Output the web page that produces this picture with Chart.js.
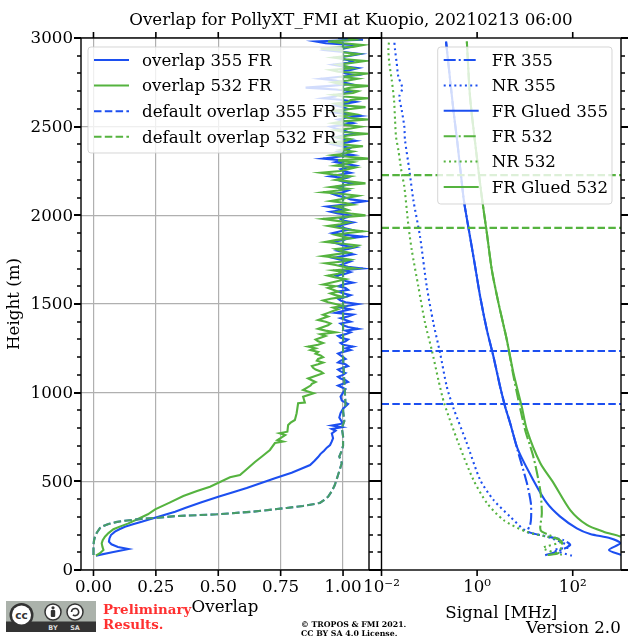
<!DOCTYPE html>
<html>
<head>
<meta charset="utf-8">
<title>Overlap for PollyXT_FMI</title>
<script src="https://cdn.jsdelivr.net/npm/chart.js@4"></script>
<style>
    html, body { margin: 0; padding: 0; background: #fff; }
    #page { position: relative; width: 640px; height: 640px; overflow: hidden; font-family: "DejaVu Serif", serif; color: #000; }
    #page canvas { position: absolute; top: 0; }
    #overlapChart { left: 0; }
    #signalChart { left: 340px; }
    .note { position: absolute; white-space: nowrap; }
    #plotTitle { left: 0; width: 702px; top: 11px; text-align: center; font-size: 16.67px; line-height: 18px; }
    #prelim { left: 103px; top: 602px; font-size: 13.4px; line-height: 15px; font-weight: bold; color: #ff3030; }
    #license { left: 301px; top: 620px; font-size: 7.8px; line-height: 9px; font-weight: bold; }
    #version { left: 526px; top: 619px; font-size: 16.67px; line-height: 18px; }
    #ccBadge { position: absolute; left: 6px; top: 601px; }
</style>
</head>
<body>
<div id="page">
    <canvas id="overlapChart" width="375" height="640"></canvas>
    <canvas id="signalChart" width="300" height="640"></canvas>
    <div class="note" id="plotTitle">Overlap for PollyXT_FMI at Kuopio, 20210213 06:00</div>
    <svg id="ccBadge" width="90" height="31" viewBox="0 0 90 31">
        <rect width="90" height="31" fill="#abb2ab"/>
        <rect y="20.5" width="90" height="10.5" fill="#333"/>
        <circle cx="15.5" cy="14" r="12" fill="#333"/>
        <circle cx="15.5" cy="14" r="9.5" fill="#fff"/>
        <text x="15.5" y="18" text-anchor="middle" font-family="DejaVu Sans" font-weight="bold" font-size="10.5" fill="#333">cc</text>
        <circle cx="47" cy="11" r="8" fill="#fff" stroke="#333" stroke-width="1.5"/>
        <circle cx="47" cy="6.8" r="1.6" fill="#333"/>
        <rect x="44.8" y="9" width="4.4" height="7" rx="1" fill="#333"/>
        <circle cx="69" cy="11" r="8" fill="#fff" stroke="#333" stroke-width="1.5"/>
        <path d="M65.5 11 a3.6 3.6 0 1 1 1.4 2.9" fill="none" stroke="#333" stroke-width="1.6"/>
        <text x="47" y="28.5" text-anchor="middle" font-family="DejaVu Sans" font-weight="bold" font-size="6.5" fill="#ddd">BY</text>
        <text x="69" y="28.5" text-anchor="middle" font-family="DejaVu Sans" font-weight="bold" font-size="6.5" fill="#ddd">SA</text>
    </svg>
    <div class="note" id="prelim">Preliminary<br>Results.</div>
    <div class="note" id="license">© TROPOS &amp; FMI 2021.<br>CC BY SA 4.0 License.</div>
    <div class="note" id="version">Version 2.0</div>
</div>

<script>
const BLUE = '#1c4ff0';
const GREEN = '#55b33f';
const GREEN_SOFT = 'rgba(85,179,63,0.78)';
const SERIF = 'DejaVu Serif';

// ---- values ----
const overlapTicks = [0, 0.25, 0.5, 0.75, 1];
const signalTicks = [0.01, 1, 100];
const signalTickLabels = ['10⁻²', '10⁰', '10²'];
const heightTicks = [0, 100, 200, 300, 400, 500, 600, 700, 800, 900, 1000, 1100, 1200, 1300, 1400, 1500,
    1600, 1700, 1800, 1900, 2000, 2100, 2200, 2300, 2400, 2500, 2600, 2700, 2800, 2900, 3000];

const upperHeights = [
    1040, 1050, 1060, 1070, 1080, 1090, 1100, 1110, 1120, 1130,
    1140, 1150, 1160, 1170, 1180, 1190, 1200, 1210, 1220, 1230,
    1240, 1250, 1260, 1270, 1280, 1290, 1300, 1310, 1320, 1330,
    1340, 1350, 1360, 1370, 1380, 1390, 1400, 1410, 1420, 1430,
    1440, 1450, 1460, 1470, 1480, 1490, 1500, 1510, 1520, 1530,
    1540, 1550, 1560, 1570, 1580, 1590, 1600, 1610, 1620, 1630,
    1640, 1650, 1660, 1670, 1680, 1690, 1700, 1710, 1720, 1730,
    1740, 1750, 1760, 1770, 1780, 1790, 1800, 1810, 1820, 1830,
    1840, 1850, 1860, 1870, 1880, 1890, 1900, 1910, 1920, 1930,
    1940, 1950, 1960, 1970, 1980, 1990, 2000, 2010, 2020, 2030,
    2040, 2050, 2060, 2070, 2080, 2090, 2100, 2110, 2120, 2130,
    2140, 2150, 2160, 2170, 2180, 2190, 2200, 2210, 2220, 2230,
    2240, 2250, 2260, 2270, 2280, 2290, 2300, 2310, 2320, 2330,
    2340, 2350, 2360, 2370, 2380, 2390, 2400, 2410, 2420, 2430,
    2440, 2450, 2460, 2470, 2480, 2490, 2500, 2510, 2520, 2530,
    2540, 2550, 2560, 2570, 2580, 2590, 2600, 2610, 2620, 2630,
    2640, 2650, 2660, 2670, 2680, 2690, 2700, 2710, 2720, 2730,
    2740, 2750, 2760, 2770, 2780, 2790, 2800, 2810, 2820, 2830,
    2840, 2850, 2860, 2870, 2880, 2890, 2900, 2910, 2920, 2930,
    2940, 2950, 2960, 2970, 2980, 2990, 3000];

const overlap355Heights = [81, 100, 118, 130, 145, 160, 178, 197, 216, 230, 244, 258, 272, 286, 300, 314, 329, 350, 380, 413, 437, 462, 490, 518, 549, 570, 592, 615, 637, 655, 673, 690, 705,
    725, 743, 770, 785, 795, 805, 815, 825, 836, 860, 885, 910, 936, 955, 977, 1000, 1020];
const overlap355Low = [0.01, 0.075, 0.14, 0.098, 0.072, 0.062, 0.064, 0.07, 0.086, 0.104, 0.126, 0.158, 0.193, 0.226, 0.26, 0.293, 0.327, 0.367, 0.43, 0.5, 0.556, 0.614, 0.672, 0.727, 0.794, 0.83, 0.868, 0.885, 0.9, 0.91, 0.924, 0.935, 0.948,
    0.955, 0.96, 0.955, 0.97, 0.955, 0.995, 0.955, 0.995, 0.995, 0.985, 0.99, 1.0, 1.02, 0.995, 0.99, 1.0, 1.01];
const overlap355High = [
    0.98, 1.00, 1.02, 1.01, 0.99, 0.98, 1.00, 1.01, 0.99, 0.98,
    1.00, 1.02, 1.01, 0.98, 0.99, 1.01, 1.00, 0.99, 0.98, 1.00,
    1.03, 1.01, 1.04, 1.00, 0.99, 1.01, 1.02, 0.99, 0.98, 1.01,
    1.03, 1.01, 1.06, 1.02, 1.00, 0.99, 1.03, 1.01, 0.99, 1.02,
    1.04, 0.97, 1.00, 1.03, 0.99, 1.02, 1.06, 1.01, 0.99, 0.98,
    1.01, 1.03, 1.00, 0.98, 1.02, 1.01, 0.98, 1.00, 1.04, 1.01,
    1.00, 0.98, 0.97, 1.01, 1.03, 1.00, 1.08, 1.02, 0.99, 1.01,
    1.03, 0.99, 0.96, 1.00, 1.04, 1.01, 0.98, 1.02, 1.05, 1.00,
    0.98, 0.95, 1.00, 1.02, 1.08, 1.01, 0.96, 0.99, 1.03, 1.00,
    0.97, 1.01, 1.04, 1.00, 0.99, 1.02, 1.03, 0.98, 0.95, 1.00,
    0.97, 0.935, 1.00, 1.04, 1.09, 1.03, 1.01, 0.98, 0.96, 1.00,
    1.02, 0.99, 0.97, 1.01, 1.04, 1.00, 0.98, 1.01, 0.95, 0.99,
    1.03, 1.00, 0.99, 1.02, 1.05, 1.01, 0.97, 1.00, 0.92, 0.98,
    1.04, 1.00, 0.98, 1.02, 1.03, 0.99, 0.96, 1.01, 1.05, 1.00,
    0.97, 1.00, 1.06, 1.02, 1.00, 0.97, 0.95, 1.00, 1.04, 1.01,
    0.98, 1.01, 1.07, 1.02, 0.96, 0.99, 1.02, 1.00, 0.97, 1.01,
    1.05, 1.00, 0.92, 0.97, 0.98, 1.01, 1.04, 0.97, 0.85, 0.95,
    1.03, 1.00, 0.97, 0.91, 0.98, 1.05, 1.01, 0.99, 1.03, 1.06,
    1.00, 0.96, 1.02, 1.04, 1.00, 0.98, 1.03, 1.07, 1.01, 0.94,
    1.00, 1.03, 1.05, 0.93, 0.89, 1.08, 0.98];

const overlap532Heights = [81, 95, 113, 130, 150, 168, 188, 208, 230, 246, 263, 288, 314, 342, 380, 417, 445, 470, 523, 536, 570, 609, 640, 677, 716, 724, 733, 761, 771, 780, 818, 831, 846, 884, 940, 944, 977, 997, 1015];
const overlap532Low = [0.01, 0.026, 0.04, 0.036, 0.033, 0.037, 0.046, 0.06, 0.08, 0.108, 0.14, 0.178, 0.218, 0.247, 0.305, 0.36, 0.415, 0.467, 0.547, 0.587, 0.615, 0.647, 0.675, 0.707, 0.727, 0.76, 0.737, 0.768, 0.745, 0.777, 0.78, 0.79, 0.807, 0.814, 0.82, 0.847, 0.84, 0.882, 0.84];
const overlap532High = [
    0.87, 0.875, 0.89, 0.875, 0.86, 0.88, 0.90, 0.92, 0.91, 0.89,
    0.88, 0.875, 0.90, 0.92, 0.895, 0.90, 0.92, 0.91, 0.89, 0.90,
    0.87, 0.89, 0.86, 0.90, 0.92, 0.90, 0.89, 0.91, 0.93, 0.91,
    0.97, 0.93, 0.90, 0.92, 0.94, 0.95, 0.93, 0.90, 0.92, 0.94,
    0.92, 0.94, 0.96, 0.98, 0.96, 1.00, 0.97, 0.94, 0.92, 0.95,
    1.00, 0.97, 0.95, 0.98, 0.96, 0.94, 0.97, 0.92, 0.95, 0.98,
    1.01, 0.97, 0.94, 0.98, 1.00, 0.96, 1.05, 1.00, 0.97, 0.93,
    1.00, 1.03, 0.98, 0.92, 0.97, 1.02, 0.99, 0.97, 1.04, 1.06,
    1.00, 0.93, 0.97, 1.03, 1.00, 0.97, 1.02, 1.08, 1.02, 0.98,
    0.94, 0.99, 1.02, 0.97, 0.92, 1.00, 1.09, 1.03, 0.98, 1.02,
    1.00, 0.97, 1.04, 1.01, 0.95, 0.99, 1.02, 1.06, 1.00, 0.92,
    0.98, 1.02, 0.95, 1.00, 1.09, 1.03, 0.97, 1.00, 1.03, 0.96,
    0.91, 0.99, 1.02, 1.05, 0.97, 1.01, 1.04, 0.98, 1.10, 1.02,
    0.96, 1.01, 1.04, 0.99, 1.02, 1.08, 0.99, 0.95, 1.01, 1.03,
    0.98, 1.02, 1.10, 1.00, 0.97, 1.03, 1.07, 1.01, 0.96, 1.00,
    1.10, 1.02, 0.99, 1.05, 1.01, 0.96, 1.03, 1.09, 1.00, 0.97,
    1.02, 1.03, 1.10, 1.00, 0.96, 1.04, 1.06, 1.00, 1.03, 1.10,
    0.99, 0.96, 1.02, 1.06, 1.00, 1.04, 1.10, 0.98, 0.95, 1.04,
    1.01, 0.98, 1.04, 1.09, 1.01, 0.96, 1.02, 1.06, 1.00, 0.99,
    0.91, 1.04, 1.08, 1.00, 0.94, 1.05, 1.02];

const defaultHeights = [85, 110, 140, 165, 188, 212, 236, 248, 259, 270, 278, 288, 295, 304, 314, 329, 350, 361, 378, 395, 413, 445, 479, 536, 603, 640, 673, 700, 755, 800, 840, 900, 930, 1200, 1600, 2000, 2400, 2800, 3000];
const defaultOverlap355 = [0.0, 0.0, 0.0, 0.002, 0.006, 0.014, 0.026, 0.04, 0.06, 0.09, 0.126, 0.193, 0.26, 0.327, 0.494, 0.64, 0.774, 0.84, 0.907, 0.925, 0.94, 0.955, 0.967, 0.98, 0.995, 0.985, 0.995, 1.0, 1.0, 0.995, 1.005, 1.0, 1.01, 1.0, 1.0, 1.0, 1.0, 1.0, 1.0];
const defaultOverlap532 = [0.0, 0.0, 0.0, 0.002, 0.006, 0.014, 0.026, 0.04, 0.06, 0.09, 0.126, 0.193, 0.26, 0.327, 0.494, 0.64, 0.774, 0.84, 0.907, 0.925, 0.94, 0.955, 0.967, 0.98, 0.995, 0.985, 0.995, 1.0, 1.0, 0.995, 1.005, 1.0, 1.01, 1.0, 1.0, 1.0, 1.0, 1.0, 1.0];

const glued355Heights = [85, 113, 151, 179, 203, 235, 301, 378, 508, 677, 829, 921, 1034, 1203, 1354, 1541, 1711, 1880, 2041, 2105, 2408, 2594, 2980];
const glued355 = [1023, 573, 990, 610, 232, 122, 54.7, 28.8, 14.9, 7.2, 4.9, 3.86, 3.03, 2.2, 1.6, 1.16, 0.91, 0.71, 0.56, 0.516, 0.387, 0.319, 0.224];
const glued532Heights = [150, 188, 216, 254, 338, 490, 603, 790, 921, 1111, 1297, 1505, 1692, 1900, 2105, 2408, 2670, 2980];
const glued532 = [2000, 1023, 442, 198, 88.7, 39.8, 20.9, 11, 8.6, 5.75, 4.19, 2.8, 2.03, 1.6, 1.25, 0.91, 0.71, 0.61];

const fr355Heights = [83, 103, 141, 169, 216, 254, 300, 378, 490, 677, 829, 921, 1034, 1203, 1354, 1541, 1711, 1880, 2041, 2105, 2408, 2594, 2980];
const fr355 = [26.5, 46.7, 88.7, 63, 11.5, 12.9, 13.5, 13.3, 11, 7.0, 4.9, 3.86, 3.03, 2.2, 1.6, 1.16, 0.91, 0.71, 0.56, 0.516, 0.387, 0.319, 0.224];
const fr532Heights = [85, 96, 160, 216, 237, 321, 451, 639, 790, 959, 1111, 1297, 1505, 1692, 1900, 2105, 2408, 2670, 2980];
const fr532 = [30, 50, 59, 22.6, 20.9, 22.6, 20.9, 15, 10.1, 7.3, 5.6, 4.19, 2.8, 2.03, 1.6, 1.25, 0.91, 0.71, 0.61];

const nr355Heights = [81, 113, 131, 188, 216, 301, 395, 508, 716, 914, 1034, 1224, 1393, 1598, 1880, 2087, 2256, 2425, 2500, 2594, 2670, 2717, 2782, 2858, 2933, 2980];
const nr355 = [96, 40, 88.7, 28.8, 11, 4.9, 2.2, 1.16, 0.608, 0.319, 0.232, 0.168, 0.1216, 0.0885, 0.064, 0.0463, 0.0382, 0.031, 0.03, 0.0265, 0.0236, 0.0273, 0.0225, 0.0208, 0.0192, 0.01854];
const nr532Heights = [85, 124, 160, 188, 214, 282, 378, 508, 716, 942, 1072, 1241, 1393, 1598, 1805, 1946, 2163, 2238, 2369, 2444, 2538, 2650, 2764, 2858, 2933, 2980];
const nr532 = [59, 24, 59, 28.8, 11, 3.56, 1.6, 0.837, 0.406, 0.204, 0.155, 0.1125, 0.0815, 0.059, 0.0429, 0.0364, 0.03, 0.0265, 0.0225, 0.0201, 0.0192, 0.0183, 0.01637, 0.01456, 0.0139, 0.01436];

const signalRange = [0.01, 1023];
const overlapLimits355 = [936, 1235];
const overlapLimits532 = [1929, 2227];

function toPoints(values, heights) {
    return values.map((v, i) => ({ x: v, y: heights[i] }));
}

let drawOrder = 0;

function lineSet(label, data, color, dash, tension, legendColor) {
    drawOrder -= 1; // chart.js paints the first dataset last, we want the opposite
    return {
        label: label,
        data: data,
        order: drawOrder,
        borderColor: color,
        legendColor: legendColor || color,
        borderWidth: 2.1,
        borderDash: dash || [],
        tension: tension || 0,
        showLine: true,
        pointRadius: 0,
        fill: false
    };
}

function limitSet(height, color) {
    return lineSet(null, signalRange.map(v => ({ x: v, y: height })), color, [7.5, 3.3]);
}

// tick marks outside of the frame plus the black frame itself
const frameTicks = {
    id: 'frameTicks',
    afterDraw(chart) {
        const area = chart.chartArea;
        const ctx = chart.ctx;
        ctx.save();
        ctx.strokeStyle = '#000';
        chart.scales.y.ticks.forEach(t => {
            const py = Math.round(chart.scales.y.getPixelForValue(t.value));
            const major = t.value % 500 == 0;
            const len = major ? 7 : 4;
            ctx.lineWidth = major ? 2 : 1.4;
            ctx.beginPath();
            ctx.moveTo(area.left - len, py);
            ctx.lineTo(area.left, py);
            ctx.moveTo(area.right, py);
            ctx.lineTo(area.right + len, py);
            ctx.stroke();
        });
        ctx.lineWidth = 1.6;
        chart.scales.x.ticks.forEach(t => {
            const px = chart.scales.x.getPixelForValue(t.value);
            ctx.beginPath();
            ctx.moveTo(px, area.top - 6);
            ctx.lineTo(px, area.top);
            ctx.moveTo(px, area.bottom);
            ctx.lineTo(px, area.bottom + 6);
            ctx.stroke();
        });
        ctx.lineWidth = 1.4;
        ctx.strokeRect(area.left, area.top, area.right - area.left, area.bottom - area.top);
        ctx.restore();
    }
};

// legend laid over the data, half see-through like in the original
const floatLegend = {
    id: 'floatLegend',
    afterDatasetsDraw(chart, args, opts) {
        const ctx = chart.ctx;
        ctx.save();
        ctx.beginPath();
        ctx.roundRect(opts.x, opts.y, opts.width, opts.height, 3);
        ctx.fillStyle = 'rgba(255,255,255,0.8)';
        ctx.fill();
        ctx.strokeStyle = 'rgba(204,204,204,0.8)';
        ctx.lineWidth = 1;
        ctx.stroke();
        ctx.font = '16.67px "' + SERIF + '"';
        ctx.textBaseline = 'middle';
        const items = chart.data.datasets.filter(d => d.label);
        items.forEach((d, i) => {
            const rowY = opts.y + opts.firstRow + i * opts.rowStep;
            ctx.strokeStyle = d.legendColor;
            ctx.lineWidth = 2;
            ctx.setLineDash(d.borderDash);
            ctx.beginPath();
            ctx.moveTo(opts.x + 6, rowY);
            ctx.lineTo(opts.x + 41, rowY);
            ctx.stroke();
            ctx.setLineDash([]);
            ctx.fillStyle = '#000';
            ctx.fillText(d.label, opts.x + 54, rowY + 1.5);
        });
        ctx.restore();
    }
};

function fixedY(width) {
    return function (scale) {
        scale.width = width;
        scale.paddingTop = 0;
        scale.paddingBottom = 0;
    };
}

function fixedX(height) {
    return function (scale) {
        scale.height = height;
        scale.paddingLeft = 0;
        scale.paddingRight = 0;
    };
}

function heightScale(width, showLabels) {
    return {
        type: 'linear',
        min: 0,
        max: 3000,
        afterBuildTicks: scale => { scale.ticks = heightTicks.map(v => ({ value: v })); },
        afterFit: fixedY(width),
        grid: {
            drawTicks: false,
            color: ctx => (showLabels && ctx.tick && ctx.tick.value % 500 == 0) ? '#b0b0b0' : 'rgba(0,0,0,0)',
            lineWidth: 1.2
        },
        border: { display: false },
        ticks: {
            autoSkip: false,
            padding: 8,
            labelOffset: 1,
            color: '#000',
            font: { family: SERIF, size: 16.67 },
            display: showLabels,
            callback: v => (v % 500 == 0 ? String(v) : '')
        },
        title: {
            display: showLabels,
            text: 'Height (m)',
            color: '#000',
            font: { family: SERIF, size: 16.67 },
            padding: { top: 5, bottom: 0 }
        }
    };
}

new Chart(document.getElementById('overlapChart'), {
    type: 'scatter',
    data: {
        datasets: [
            lineSet('overlap 355 FR', toPoints(overlap355Low.concat(overlap355High), overlap355Heights.concat(upperHeights)), BLUE),
            lineSet('overlap 532 FR', toPoints(overlap532Low.concat(overlap532High), overlap532Heights.concat(upperHeights)), GREEN),
            lineSet('default overlap 355 FR', toPoints(defaultOverlap355, defaultHeights), BLUE, [7.5, 3.3]),
            lineSet('default overlap 532 FR', toPoints(defaultOverlap532, defaultHeights), GREEN_SOFT, [7.5, 3.3], 0, GREEN)
        ]
    },
    options: {
        responsive: false,
        animation: false,
        layout: { padding: { top: 38, right: 6, bottom: 0, left: 0 } },
        scales: {
            x: {
                type: 'linear',
                min: -0.05,
                max: 1.104,
                afterBuildTicks: scale => { scale.ticks = overlapTicks.map(v => ({ value: v })); },
                afterFit: fixedX(70),
                grid: { drawTicks: false, color: '#b0b0b0', lineWidth: 1.2 },
                border: { display: false },
                ticks: {
                    autoSkip: false,
                    maxRotation: 0,
                    padding: 8,
                    color: '#000',
                    font: { family: SERIF, size: 16.67 },
                    callback: v => v.toFixed(2)
                },
                title: {
                    display: true,
                    text: 'Overlap',
                    color: '#000',
                    font: { family: SERIF, size: 16.67 },
                    padding: { top: 0, bottom: 22 }
                }
            },
            y: heightScale(81, true)
        },
        plugins: {
            legend: { display: false },
            tooltip: { enabled: false },
            floatLegend: { x: 88, y: 47, width: 255, height: 106, firstRow: 13, rowStep: 25.6 }
        }
    },
    plugins: [floatLegend, frameTicks]
});

new Chart(document.getElementById('signalChart'), {
    type: 'scatter',
    data: {
        datasets: [
            lineSet('FR 355', toPoints(fr355, fr355Heights), BLUE, [12, 3, 2, 3], 0.25),
            lineSet('NR 355', toPoints(nr355, nr355Heights), BLUE, [2, 3.3], 0.25),
            lineSet('FR Glued 355', toPoints(glued355, glued355Heights), BLUE, null, 0.25),
            lineSet('FR 532', toPoints(fr532, fr532Heights), GREEN, [12, 3, 2, 3], 0.25),
            lineSet('NR 532', toPoints(nr532, nr532Heights), GREEN, [2, 3.3], 0.25),
            lineSet('FR Glued 532', toPoints(glued532, glued532Heights), GREEN, null, 0.25),
            limitSet(overlapLimits355[0], BLUE),
            limitSet(overlapLimits355[1], BLUE),
            limitSet(overlapLimits532[0], GREEN),
            limitSet(overlapLimits532[1], GREEN)
        ]
    },
    options: {
        responsive: false,
        animation: false,
        layout: { padding: { top: 38, right: 19, bottom: 0, left: 41.5 } },
        scales: {
            x: {
                type: 'logarithmic',
                min: signalRange[0],
                max: signalRange[1],
                afterBuildTicks: scale => { scale.ticks = signalTicks.map(v => ({ value: v })); },
                afterFit: fixedX(70),
                grid: { display: false, drawTicks: false },
                border: { display: false },
                ticks: {
                    autoSkip: false,
                    maxRotation: 0,
                    padding: 8,
                    color: '#000',
                    font: { family: SERIF, size: 16.67 },
                    callback: v => signalTickLabels[signalTicks.indexOf(v)]
                },
                title: {
                    display: true,
                    text: 'Signal [MHz]',
                    color: '#000',
                    font: { family: SERIF, size: 16.67 },
                    padding: { top: 0, bottom: 16 }
                }
            },
            y: heightScale(0, false)
        },
        plugins: {
            legend: { display: false },
            tooltip: { enabled: false },
            floatLegend: { x: 97.7, y: 47, width: 174.3, height: 157, firstRow: 13, rowStep: 25.4 }
        }
    },
    plugins: [floatLegend, frameTicks]
});
</script>
</body>
</html>
